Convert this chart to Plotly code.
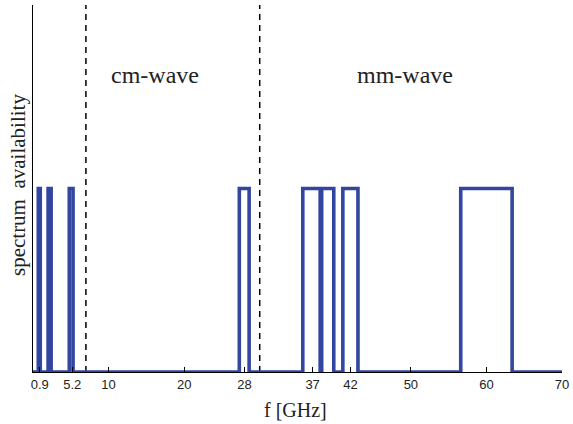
import plotly.graph_objects as go

# Spectrum bands (GHz)
band_start = [0.7, 2.0, 4.8, 27.3, 35.7, 38.2, 41.0, 56.6]
band_end = [0.96, 2.4, 5.3, 28.6, 38.0, 39.8, 43.0, 63.4]
band_level = [1, 1, 1, 1, 1, 1, 1, 1]
x_min, x_max = 0, 70
divider_x = [7, 30]
region_labels = ["cm-wave", "mm-wave"]
region_label_x = [16.2, 49.2]
region_label_y = [1.62, 1.62]
tick_vals = [0.9, 5.2, 10, 20, 28, 37, 42, 50, 60, 70]
tick_text = ["0.9", "5.2", "10", "20", "28", "37", "42", "50", "60", "70"]

# build step-line vertices from band edges
xs, ys = [x_min], [0]
for s, e, lv in zip(band_start, band_end, band_level):
    xs += [s, s, e, e]
    ys += [0, lv, lv, 0]
xs.append(x_max)
ys.append(0)

fig = go.Figure()
for dx in divider_x:
    fig.add_trace(go.Scatter(x=[dx, dx], y=[0, 2], mode="lines",
                             line=dict(color="black", width=1.5, dash="6px,5px"),
                             showlegend=False, hoverinfo="skip"))
fig.add_trace(go.Scatter(x=xs, y=ys, mode="lines",
                         line=dict(color="#3246a0", width=3.6),
                         showlegend=False))

for t, lx, ly in zip(region_labels, region_label_x, region_label_y):
    fig.add_annotation(x=lx, y=ly, text=t, showarrow=False,
                       xanchor="center", yanchor="middle",
                       font=dict(family="Liberation Serif", size=24, color="#222"))

fig.add_annotation(xref="paper", yref="paper", x=0.496, y=-0.104,
                   xanchor="center", yanchor="middle",
                   text="f [GHz]", showarrow=False,
                   font=dict(family="Liberation Serif", size=20, color="#222"))
fig.add_annotation(xref="paper", yref="paper", x=-0.028, y=0.51,
                   xanchor="center", yanchor="middle",
                   text="spectrum  availability", showarrow=False, textangle=-90,
                   font=dict(family="Liberation Serif", size=21, color="#222"))

fig.update_layout(
    width=573, height=424,
    margin=dict(l=33, r=11, t=5, b=52, autoexpand=False),
    plot_bgcolor="white", paper_bgcolor="white",
    xaxis=dict(range=[x_min, x_max], tickvals=tick_vals, ticktext=tick_text,
               ticks="inside", ticklen=5, tickcolor="black", tickwidth=1,
               showline=True, linecolor="black", linewidth=1, showgrid=False,
               zeroline=False, automargin=False,
               tickfont=dict(family="Liberation Sans", size=13, color="#222")),
    yaxis=dict(range=[0, 2], showticklabels=False, ticks="",
               showline=True, linecolor="black", linewidth=1, showgrid=False,
               zeroline=False, automargin=False),
)

fig.write_html("out.html", config={"displayModeBar": False},
               post_script="document.body.style.margin='0';document.body.style.overflow='hidden';")
